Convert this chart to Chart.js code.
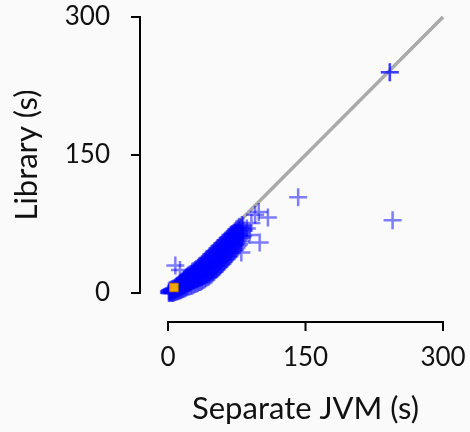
<!DOCTYPE html>
<html>
<head>
<meta charset="utf-8">
<script src="https://cdn.jsdelivr.net/npm/chart.js@4"></script>
<style>
  html, body { margin: 0; padding: 0; background: #fafafa; }
  canvas { display: block; }
</style>
</head>
<body>
<canvas id="chart" width="470" height="432"></canvas>
<script>
// axis ticks
const tickValues = [0, 150, 300];

// dense band of runs (x column -> list of y values read from the blob)
const bandX = [1, 2, 4, 6, 8, 10, 12, 14, 16, 18, 20, 22, 25, 28, 31, 34, 37, 40, 43, 46, 49, 52, 55, 58, 61, 64, 67, 70, 73, 76, 79, 82];
const bandY = [
  [0, 2], [0, 1, 3], [0, 2, 4], [0, 3, 5], [1, 4, 6], [2, 5, 8], [3, 6, 9],
  [3, 6, 9, 11], [4, 8, 11, 13], [5, 9, 12, 15], [6, 10, 14, 17], [7, 11, 15, 19],
  [8, 12, 16, 19, 21], [9, 14, 18, 21, 24], [10, 15, 19, 23, 26], [12, 17, 21, 25, 29],
  [13, 18, 23, 27, 31], [15, 20, 25, 30, 34], [17, 22, 27, 32, 37], [19, 25, 30, 35, 40],
  [22, 27, 33, 38, 43], [25, 30, 36, 41, 46], [28, 33, 39, 44, 49], [31, 36, 42, 47, 52],
  [34, 39, 45, 50, 55], [37, 43, 48, 53, 58], [40, 46, 51, 56, 61], [44, 50, 55, 60, 64],
  [47, 53, 58, 63, 67], [51, 57, 62, 66, 70], [56, 62, 67, 71], [62, 68, 73]
];

// second pass of the band, between the columns above
const bandX2 = [3, 5, 7, 9, 11, 13, 15, 17, 19, 21, 23.5, 26.5, 29.5, 32.5, 35.5, 38.5, 41.5, 44.5, 47.5, 50.5, 53.5, 56.5, 59.5, 62.5, 65.5, 68.5, 71.5, 74.5, 77.5, 80.5];
const bandY2 = [
  [1, 3], [0, 2, 4], [1, 3, 5], [2, 4, 7], [2, 5, 8], [3, 7, 10],
  [4, 7, 10, 12], [5, 8, 12, 14], [6, 9, 13, 16], [7, 11, 14, 18],
  [7, 11, 15, 18, 20], [8, 13, 17, 20, 23], [10, 14, 18, 22, 25], [11, 16, 20, 24, 27],
  [12, 17, 22, 26, 30], [14, 19, 24, 28, 33], [16, 21, 26, 31, 36], [18, 23, 28, 33, 38],
  [20, 26, 31, 37, 42], [23, 29, 34, 40, 45], [26, 32, 37, 43, 48], [29, 35, 40, 46, 51],
  [32, 38, 43, 49, 54], [36, 41, 47, 52, 57], [39, 44, 50, 55, 60], [42, 48, 53, 58, 63],
  [46, 52, 57, 61, 65], [49, 55, 60, 65, 69], [53, 59, 64, 68, 72], [60, 65, 70, 74]
];

// scattered runs outside the band
const outlierX = [242, 242, 245, 142, 109, 99, 95, 100, 89, 80, 86, 91, 8, 13];
const outlierY = [240, 240, 79, 104, 82, 88, 85, 55, 63, 44, 70, 76, 30, 25];

// highlighted run
const markX = [6.5];
const markY = [6];

// y = x reference
const diagX = [0, 300];
const diagY = [0, 300];

const toPoints = (xs, ys) => xs.map((x, i) => ({ x: x, y: ys[i] }));

const runs = [];
bandX.forEach((x, i) => bandY[i].forEach(y => runs.push({ x: x, y: y })));
bandX2.forEach((x, i) => bandY2[i].forEach(y => runs.push({ x: x, y: y })));
toPoints(outlierX, outlierY).forEach(p => runs.push(p));

const TICK_FONT = { family: 'Lato', size: 26 };
const TITLE_FONT = { family: 'Lato', size: 31 };
const INK = '#111111';

// offset spines like a despined matplotlib axis
const spines = {
  id: 'spines',
  afterDraw(chart) {
    const ctx = chart.ctx;
    const xs = chart.scales.x, ys = chart.scales.y;
    const off = 28, tl = 8;
    const yLine = chart.chartArea.bottom + off + 1;
    const xLine = chart.chartArea.left - off;
    ctx.save();
    ctx.strokeStyle = '#000';
    ctx.lineWidth = 2;
    ctx.lineCap = 'square';
    ctx.beginPath();
    ctx.moveTo(xLine, ys.getPixelForValue(0));
    ctx.lineTo(xLine, ys.getPixelForValue(300));
    tickValues.forEach(v => {
      const p = ys.getPixelForValue(v);
      ctx.moveTo(xLine, p);
      ctx.lineTo(xLine - tl, p);
    });
    ctx.moveTo(xs.getPixelForValue(0), yLine);
    ctx.lineTo(xs.getPixelForValue(300), yLine);
    tickValues.forEach(v => {
      const p = xs.getPixelForValue(v);
      ctx.moveTo(p, yLine);
      ctx.lineTo(p, yLine + tl);
    });
    ctx.stroke();
    ctx.restore();
  }
};

new Chart(document.getElementById('chart'), {
  type: 'scatter',
  data: {
    datasets: [
      {
        data: toPoints(markX, markY),
        pointStyle: 'rect',
        pointRadius: 6,
        pointBackgroundColor: 'rgb(245,165,10)',
        pointBorderColor: 'rgb(200,120,0)',
        pointBorderWidth: 1,
        clip: false,
        order: 0
      },
      {
        data: runs,
        pointStyle: 'cross',
        pointRadius: 9,
        pointBorderWidth: 2.5,
        pointBorderColor: 'rgba(0,0,255,0.5)',
        pointBackgroundColor: 'rgba(0,0,255,0.5)',
        clip: false,
        order: 1
      },
      {
        data: toPoints(diagX, diagY),
        showLine: true,
        borderColor: '#aaaaaa',
        borderWidth: 3.5,
        pointRadius: 0,
        clip: false,
        order: 2
      }
    ]
  },
  options: {
    responsive: false,
    animation: false,
    devicePixelRatio: 1,
    layout: { padding: { top: 17, right: 27, left: 0, bottom: 0 } },
    plugins: { legend: { display: false }, tooltip: { enabled: false } },
    scales: {
      x: {
        type: 'linear',
        min: 0, max: 300,
        afterFit: s => { s.height = 139; s.paddingLeft = 0; s.paddingRight = 0; },
        afterBuildTicks: s => { s.ticks = tickValues.map(v => ({ value: v })); },
        grid: { display: false },
        border: { display: false },
        ticks: { font: TICK_FONT, color: INK, padding: 41, maxRotation: 0 },
        title: { display: true, text: 'Separate JVM (s)', font: TITLE_FONT, color: INK, padding: { top: 0, bottom: 4 } }
      },
      y: {
        type: 'linear',
        min: 0, max: 300,
        afterFit: s => { s.width = 168; s.paddingTop = 0; s.paddingBottom = 0; },
        afterBuildTicks: s => { s.ticks = tickValues.map(v => ({ value: v })); },
        grid: { display: false },
        border: { display: false },
        ticks: { font: TICK_FONT, color: INK, padding: 50 },
        title: { display: true, text: 'Library (s)', font: TITLE_FONT, color: INK, padding: { top: 8, bottom: 0 } }
      }
    }
  },
  plugins: [spines]
});
</script>
</body>
</html>
